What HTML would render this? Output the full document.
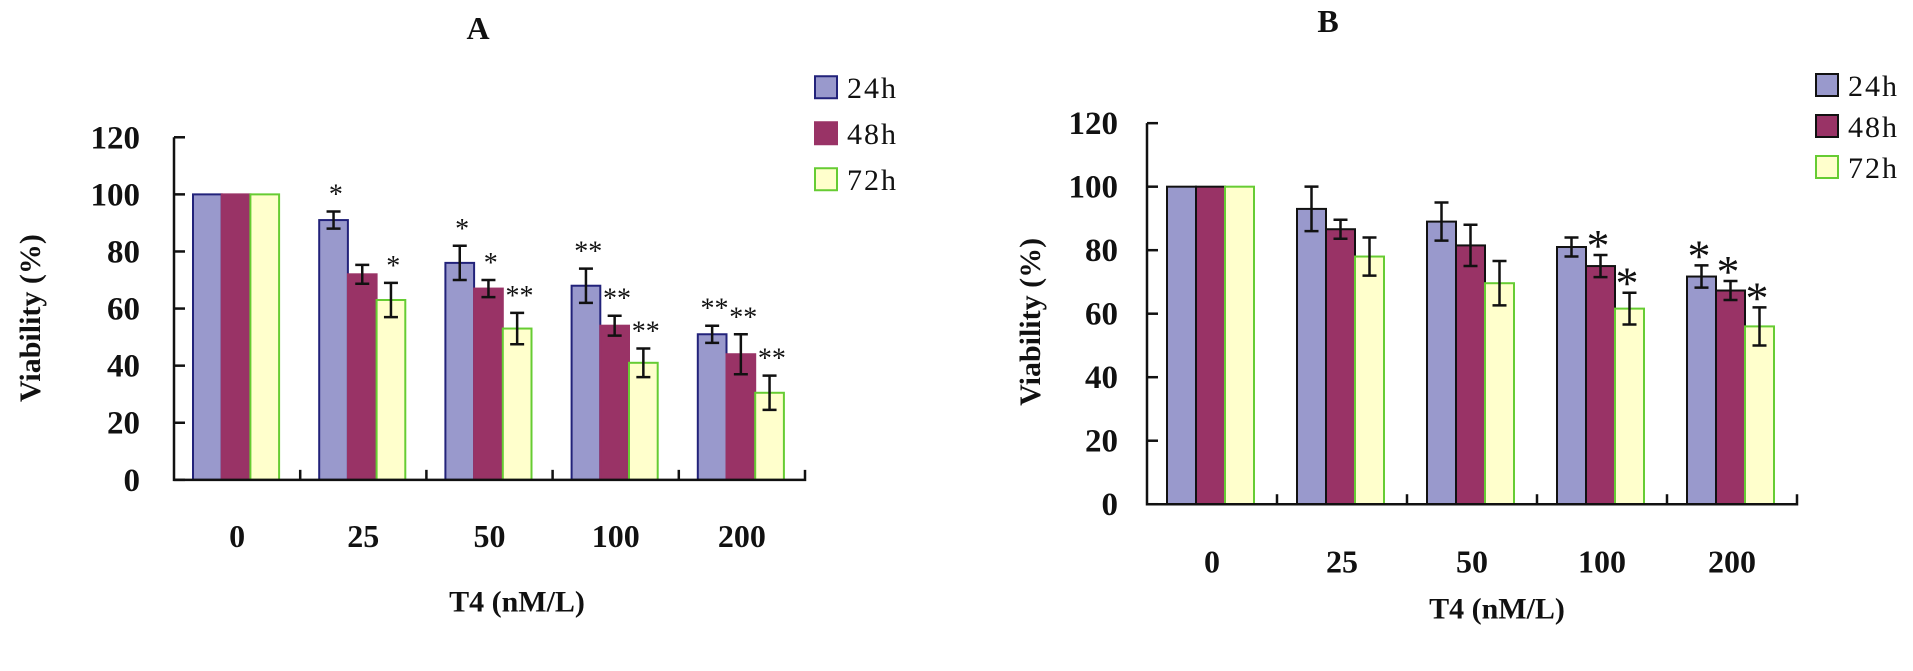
<!DOCTYPE html>
<html><head><meta charset="utf-8">
<style>
html,body{margin:0;padding:0;background:#fff;}
svg{display:block;}
text{font-family:"Liberation Serif",serif;fill:#111;}
</style></head>
<body>
<svg id="fig" width="1913" height="671" viewBox="0 0 1913 671" xmlns="http://www.w3.org/2000/svg"></svg>
<script>
const categories = ["0","25","50","100","200"];
const seriesNames = ["24h","48h","72h"];
const yTicks = [0,20,40,60,80,100,120];
// Panel A
const a24 = [100,91,76,68,51];
const a48 = [100,72,67,54,44];
const a72 = [100,63,53,41,30.5];
const a24err = [0,3,6,6,3];
const a48err = [0,3.3,3,3.5,7];
const a72err = [0,6,5.5,5,6];
const a24stars = ["","*","*","**","**"];
const a48stars = ["","","*","**","**"];
const a72stars = ["","*","**","**","**"];
// Panel B
const b24 = [100,93,89,81,71.7];
const b48 = [100,86.6,81.5,75,67.3];
const b72 = [100,78,69.6,61.6,56];
const b24err = [0,7,6,3,3.5];
const b48err = [0,3,6.5,3.5,3];
const b72err = [0,6,7,5,6];
const b24stars = ["","","","","*"];
const b48stars = ["","","","*","*"];
const b72stars = ["","","","*","*"];

const K = 1.283;
const NS = "http://www.w3.org/2000/svg";
const svg = document.getElementById("fig");
function mk(tag, attrs, parent){
  const e = document.createElementNS(NS, tag);
  for (const k in attrs) e.setAttribute(k, attrs[k]);
  (parent||svg).appendChild(e);
  return e;
}

function panel(cfg){
  const g = mk("g", {});
  
  
  const y = v => cfg.y0 - (v/120)*(cfg.y0 - cfg.y120);
  const xCat = i => cfg.ax + i*cfg.cw;
  const t = mk("text", {x:cfg.titleX, y:cfg.titleY, "text-anchor":"middle", "font-size":32, "font-weight":"bold"}, g);
  t.textContent = cfg.title;
  
  
  const data = [cfg.s1, cfg.s2, cfg.s3];
  const errs = [cfg.e1, cfg.e2, cfg.e3];
  const stars = [cfg.st1, cfg.st2, cfg.st3];
  const fills = ["#9999cc","#993366","#ffffcc"];
  for (let i=0;i<categories.length;i++){
    for (let s=0;s<3;s++){
      const v = data[s][i];
      const x0 = xCat(i) + cfg.off + s*cfg.bw;
      const r = mk("rect", {x:x0, y:y(v), width:cfg.bw, height:y(0)-y(v), fill:fills[s], stroke:cfg.strokes[s], "stroke-width":2}, g);
      
      
      const e = errs[s][i];
      if (e>0){
        const cx = x0 + cfg.bw/2;
        const eb = mk("path", {d:`M${cx-7},${y(v+e)}H${cx+7}M${cx},${y(v+e)}V${y(v-e)}M${cx-7},${y(v-e)}H${cx+7}`, stroke:"#111", "stroke-width":2.5, fill:"none"}, g);
        
        
      }
      const st = stars[s][i];
      if (st){
        const top = y(v+e);
        const sx = x0 + cfg.bw + cfg.starDx;
        const sy = top + cfg.starDy;
        const tx = mk("text", {x:sx, y:sy, "text-anchor":"middle", "font-size":cfg.starSize, "font-family":"Liberation Sans, sans-serif"}, g);
        tx.textContent = st;
        
        
      }
    }
    const lb = mk("text", {x:xCat(i)+cfg.cw/2, y:cfg.xLabelY, "text-anchor":"middle", "font-size":32, "font-weight":"bold", "font-family":cfg.xFont}, g);
    lb.textContent = categories[i];
    
    
  }
  const ax = mk("path", {d:`M${cfg.ax},${y(120)}V${y(0)}H${xCat(5)}V${y(0)-10}`, stroke:"#111", "stroke-width":2.5, fill:"none"}, g);
  
  
  for (let i=1;i<5;i++){
    const tk = mk("line", {x1:xCat(i), x2:xCat(i), y1:y(0), y2:y(0)-10, stroke:"#111", "stroke-width":2.5}, g);
    
    
  }
  yTicks.forEach(v=>{
    const tk = mk("line", {x1:cfg.ax, x2:cfg.ax+11, y1:y(v), y2:y(v), stroke:"#111", "stroke-width":2.5}, g);
    
    
    const tl = mk("text", {x:cfg.yLabelR, y:y(v)+11, "text-anchor":"end", "font-size":33, "font-weight":"bold"}, g);
    tl.textContent = v;
    
    
  });
  const yt = mk("text", {x:0, y:0, transform:`translate(${cfg.yTitleX},${cfg.yTitleY}) rotate(-90)`, "text-anchor":"middle", "font-size":30, "font-weight":"bold"}, g);
  yt.textContent = "Viability (%)";
  
  
  const xt = mk("text", {x:cfg.xTitleX, y:cfg.xTitleY, "text-anchor":"middle", "font-size":30, "font-weight":"bold"}, g);
  xt.textContent = "T4 (nM/L)";
  
  
  seriesNames.forEach((n,s)=>{
    const ly = cfg.legY + s*cfg.legDy;
    const lg = mk("g", {}, g);
    
    
    mk("rect", {x:cfg.legX, y:ly-11, width:22, height:22, fill:fills[s], stroke:cfg.legStrokes[s], "stroke-width":2}, lg);
    const lt = mk("text", {x:cfg.legX+32, y:ly+11, "font-size":30, "letter-spacing":2}, lg);
    lt.textContent = n;
  });
}

panel({name:"panel-a", title:"A", titleX:478, titleY:39,
  ax:174, cw:126.2, off:19, bw:28.7, y0:374*K, y120:107*K,
  s1:a24, s2:a48, s3:a72, e1:a24err, e2:a48err, e3:a72err,
  st1:a24stars, st2:a48stars, st3:a72stars,
  strokes:["#22227a","#993366","#66cc33"], legStrokes:["#22227a","#993366","#66cc33"],
  starDx:-12, starDy:-8, starSize:28,
  xLabelY:417*K+12, xFont:"Liberation Sans, sans-serif", yLabelR:140,
  yTitleX:40, yTitleY:262*K-18, xTitleX:517, xTitleY:493*K-21,
  legX:815, legY:68*K, legDy:46});

panel({name:"panel-b", title:"B", titleX:1328, titleY:32,
  ax:1147, cw:130, off:20, bw:29, y0:393*K, y120:96*K,
  s1:b24, s2:b48, s3:b72, e1:b24err, e2:b48err, e3:b72err,
  st1:b24stars, st2:b48stars, st3:b72stars,
  strokes:["#111","#111","#66cc33"], legStrokes:["#111","#111","#66cc33"],
  starDx:-17, starDy:6, starSize:46,
  xLabelY:437*K+12, xFont:"Liberation Serif, serif", yLabelR:1118,
  yTitleX:1040, yTitleY:240*K+14, xTitleX:1497, xTitleY:500*K-23,
  legX:1816, legY:85, legDy:41});
</script>
</body></html>
